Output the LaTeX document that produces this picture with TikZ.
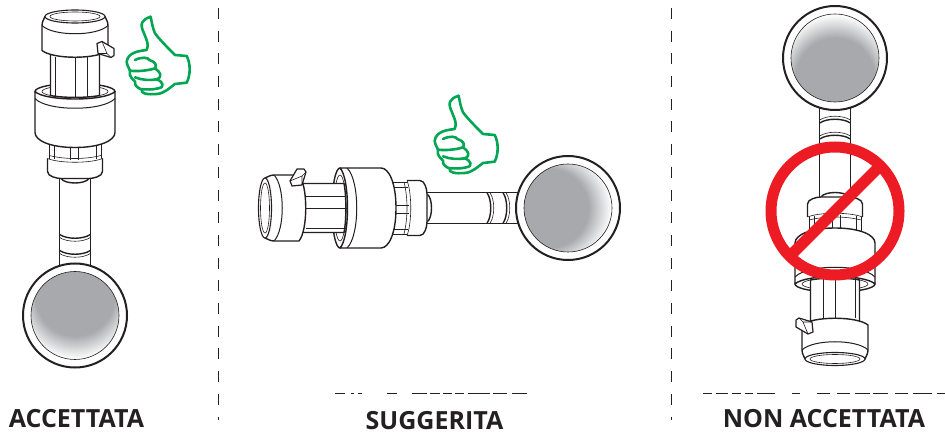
\documentclass[tikz,border=0pt]{standalone}
\usepackage{fontspec}
\setmainfont{Open Sans}
\definecolor{ThumbClr}{rgb}{0,0.65,0.32}
\definecolor{BanClr}{rgb}{0.93,0.11,0.14}
\definecolor{InkClr}{rgb}{0.14,0.12,0.13}
\definecolor{DiscClr}{rgb}{0.655,0.663,0.675}
\pgfdeclareradialshading{DiscShade}{\pgfpoint{0bp}{20bp}}{color(0bp)=(DiscClr);color(22.5bp)=(DiscClr);color(32bp)=(white);color(50bp)=(white)}
\tikzset{
  heavy/.style={line width=1.4pt,color=InkClr,fill=white,line join=round},
  light/.style={line width=.6pt,color=InkClr},
  caption/.style={font=\fontsize{25}{25}\selectfont\bfseries,text=InkClr,anchor=base,inner sep=0pt},
  divider/.style={line width=1pt,color=InkClr,dash pattern=on 11pt off 11.7pt}
}
% sensor seen with the disc at the origin, cap along -y; #4 lengthens the shaft
\newcommand{\DrawSensor}[4]{%
\begin{scope}[shift={(#1,#2)},rotate=#3]
  % shaft and grooves
  \fill[white] (-15,-137-#4) rectangle (15,-50);
  \draw[heavy] (-15.3,-137-#4) -- (-15.3,-50) (15.3,-50) -- (15.3,-137-#4);
  \draw[heavy,fill=none] (-15.3,-81) .. controls (-8,-76) and (8,-76) .. (15.3,-81);
  \draw[light] (-15.3,-78) .. controls (-8,-73) and (8,-73) .. (15.3,-78);
  \draw[heavy,fill=none] (-15.3,-65) .. controls (-8,-60) and (8,-60) .. (15.3,-65);
  \draw[light] (-15.3,-62) .. controls (-8,-57) and (8,-57) .. (15.3,-62);
  % disc
  \draw[line width=2pt,color=InkClr,fill=white] (0,0) circle (52);
  \draw[light,shading=DiscShade,shading angle=#3] (0,0) circle (44);
  \begin{scope}[shift={(0,-#4)}]
  % nut
  \draw[heavy] (-14,-137) .. controls (-10,-131) and (10,-131) .. (14,-137);
  \draw[heavy,line width=.9pt] (-26,-172) -- (-26,-152) -- (26,-152) -- (26,-172) -- cycle;
  \draw[light] (-21,-172) -- (-21,-156) (-5,-172) -- (-5,-155) (3,-172) -- (3,-155) (21,-172) -- (21,-156);
  \draw[light] (-26,-160) .. controls (-10,-156) and (10,-156) .. (26,-160);
  \draw[heavy,draw=none] (-27.5,-157) -- (-27.5,-144) .. controls (-27.5,-139) and (-18,-137) .. (-14,-137)
    -- (14,-137) .. controls (18,-137) and (27.5,-139) .. (27.5,-144) -- (27.5,-157)
    .. controls (15,-152) and (-15,-152) .. cycle;
  \draw[heavy,fill=none] (-27.5,-157) -- (-27.5,-144) .. controls (-27.5,-139) and (-18,-137) .. (-14,-137)
    -- (14,-137) .. controls (18,-137) and (27.5,-139) .. (27.5,-144) -- (27.5,-157);
  \draw[light] (-27.5,-157) .. controls (-15,-152) and (15,-152) .. (27.5,-157);
  % collar opening
  \draw[heavy] (0,-224) ellipse (40 and 8);
  \draw[light,fill=white] (0,-224) ellipse (33 and 6);
  % stem
  \draw[heavy] (-24.5,-262) -- (-24.5,-220) .. controls (-12,-217.5) and (12,-217.5) .. (24.5,-220) -- (24.5,-262) -- cycle;
  \draw[light] (-20,-258) -- (-20,-218) (0,-258) -- (0,-217) (12,-258) -- (12,-218);
  % collar
  \draw[heavy] (-40,-224) .. controls (-30,-214) and (30,-214) .. (40,-224)
    -- (40,-183) .. controls (40,-175) and (25,-168) .. (0,-168)
    .. controls (-25,-168) and (-40,-175) .. (-40,-183) -- cycle;
  \draw[heavy,fill=none,line width=1pt] (-40,-217) .. controls (-28,-204) and (28,-204) .. (40,-217);
  % cap
  \draw[heavy] (-33,-290) -- (-33,-265) .. controls (-22,-256) and (22,-256) .. (33,-265) -- (33,-290)
    .. controls (33,-294) and (31,-296) .. (30,-299) -- (-30,-299) .. controls (-31,-296) and (-33,-294) .. cycle;
  \draw[heavy,line width=1.1pt] (0,-299) ellipse (30 and 6.5);
  \draw[light] (0,-299) ellipse (25 and 4.5);
  \draw[line width=1pt,color=InkClr] (-33,-290) .. controls (-22,-279) and (22,-279) .. (33,-290);
  % tab
  \draw[heavy,line width=1.2pt] (22,-272) -- (27,-274) -- (39,-267) -- (39,-260) -- (36,-258) -- (23,-262) -- cycle;
  \draw[light] (27,-274) -- (32,-262) -- (36,-258) (32,-262) -- (23,-262);
  \end{scope}
\end{scope}}
% hand, points read off at three times the size
\newcommand{\DrawThumb}[2]{%
\begin{scope}[shift={(#1,#2)},scale=1/3,line width=2.6pt,color=ThumbClr,line join=round,line cap=round]
  \draw (452,50) .. controls (425,60) and (418,70) .. (432,100) .. controls (440,120) and (448,135) .. (440,150)
    .. controls (420,153) and (385,155) .. (380,185) .. controls (381,198) and (388,205) .. (390,212)
    .. controls (385,230) and (400,238) .. (405,245) .. controls (403,258) and (415,265) .. (425,268)
    .. controls (420,282) and (445,284) .. (470,282) .. controls (495,280) and (510,262) .. (525,252)
    -- (560,248) .. controls (572,225) and (572,190) .. (560,168) -- (525,165)
    .. controls (500,140) and (480,120) .. (465,100) .. controls (458,85) and (455,65) .. cycle;
  \draw (405,180) .. controls (425,170) and (445,172) .. (448,180) .. controls (465,185) and (472,195) .. (465,205)
    .. controls (445,212) and (410,215) .. (390,212);
  \draw (465,205) .. controls (480,215) and (490,230) .. (470,238) .. controls (450,242) and (425,240) .. (405,232);
  \draw (470,238) .. controls (490,245) and (495,262) .. (475,265) .. controls (455,270) and (440,268) .. (425,268);
\end{scope}}
\begin{document}
\begin{tikzpicture}[x=1pt,y=-1pt]
\useasboundingbox (0,0) rectangle (945,435);

\DrawSensor{75}{315.5}{0}{0}
\DrawSensor{568}{208}{90}{4}
\DrawSensor{835}{58}{180}{2}

\DrawThumb{0}{0}
\DrawThumb{308}{79}

% ban sign on the third sensor
\draw[line width=11pt,color=BanClr] (835,211) circle (64);
\draw[line width=11pt,color=BanClr] (790,256) -- (880,166);

% dividers
\draw[divider] (218.5,8) -- (218.5,420);
\draw[divider] (671,8) -- (671,420);

% remains of the cut off line above the captions
\foreach \a/\b in {335/345,351/354,358/362,387/397,412/427,430/440,443/452,455/464,468/490,493/507,512/527,
  703/712,716/728,732/741,745/753,757/775,792/800,817/830,837/850,855/870,873/888,895/908,913/932,937/945}
  \draw[line width=1pt,color=InkClr] (\a,394) -- (\b,394);

\node[caption] (accepted) at (76.5,427) {ACCETTATA};
\node[caption] (suggested) at (434.5,429) {SUGGERITA};
\node[caption] (rejected) at (824,428) {NON ACCETTATA};

\end{tikzpicture}
\end{document}
